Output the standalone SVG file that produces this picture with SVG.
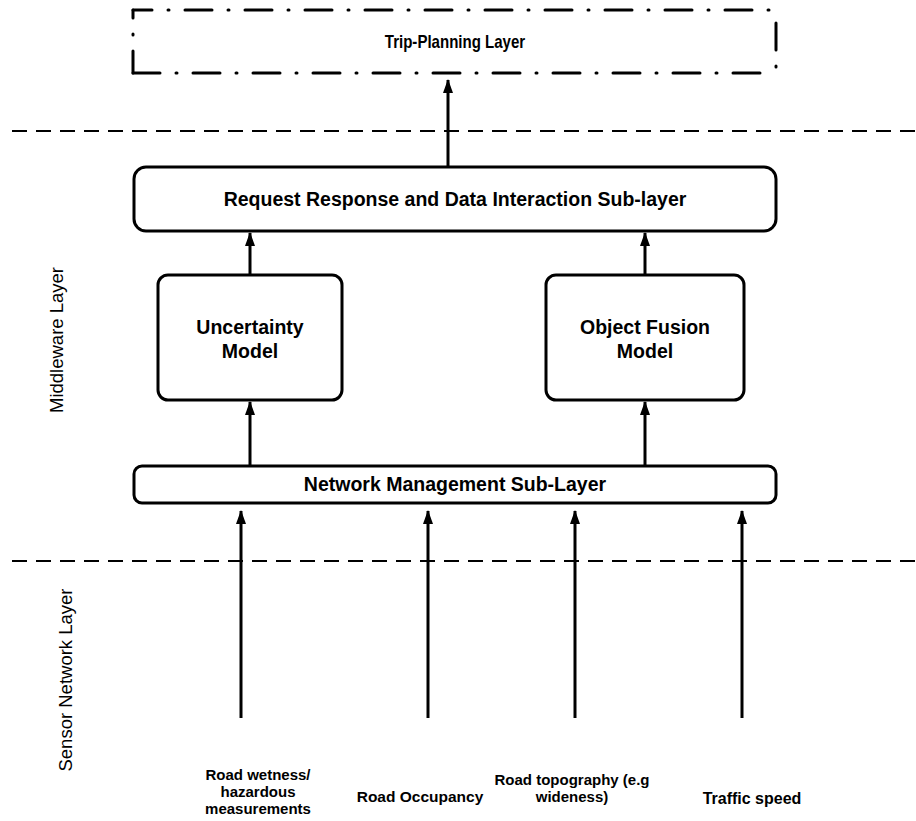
<svg xmlns="http://www.w3.org/2000/svg" width="916" height="821" viewBox="0 0 916 821">
  <defs>
    <marker id="arrowhead" viewBox="0 0 14 10" refX="13" refY="5" markerWidth="14" markerHeight="10" markerUnits="userSpaceOnUse" orient="auto">
      <path d="M0,0 L14,5 L0,10 Z" fill="#000"/>
    </marker>
    <style>
      .box { fill: #fff; stroke: #000; stroke-width: 3; }
      .lbl { font-family: "Liberation Sans", Arial, sans-serif; font-weight: bold; fill: #000; text-anchor: middle; }
      .side { font-family: "Liberation Sans", Arial, sans-serif; fill: #000; text-anchor: middle; font-size: 18.5px; }
      .sep { stroke: #000; stroke-width: 2; stroke-dasharray: 15 9; fill: none; }
      .dd { stroke: #000; stroke-width: 3; stroke-dasharray: 27 16 1 16; stroke-linecap: round; fill: none; }
      .arrow { stroke: #000; stroke-width: 3; fill: none; }
    </style>
  </defs>

  <rect width="916" height="821" fill="#fff"/>

  <!-- layer separators -->
  <g id="separators">
    <line class="sep" x1="12" y1="131" x2="916" y2="131"/>
    <line class="sep" x1="12" y1="561" x2="916" y2="561"/>
  </g>

  <!-- layer names -->
  <g id="layer-names">
    <text class="side" transform="translate(63,340) rotate(-90)">Middleware Layer</text>
    <text class="side" transform="translate(72,680) rotate(-90)">Sensor Network Layer</text>
  </g>

  <!-- trip planning layer (dash-dot outline) -->
  <g id="trip-planning">
    <line class="dd" x1="133" y1="10" x2="776" y2="10" stroke-dashoffset="8"/>
    <line class="dd" x1="776" y1="10" x2="776" y2="73" stroke-dashoffset="47"/>
    <line class="dd" x1="133" y1="73" x2="776" y2="73"/>
    <line class="dd" x1="133" y1="10" x2="133" y2="73" stroke-dashoffset="19"/>
    <text class="lbl" transform="translate(455,48) scale(0.86,1)" font-size="17.5">Trip-Planning Layer</text>
  </g>

  <g id="request-response">
    <rect class="box" x="134" y="167" width="642" height="64" rx="12"/>
    <text class="lbl" x="455" y="206" font-size="19.5">Request Response and Data Interaction Sub-layer</text>
  </g>

  <g id="uncertainty-model">
    <rect class="box" x="158" y="275" width="184" height="125" rx="10"/>
    <text class="lbl" x="250" y="334" font-size="19.5">Uncertainty</text>
    <text class="lbl" x="250" y="358" font-size="19.5">Model</text>
  </g>

  <g id="object-fusion-model">
    <rect class="box" x="546" y="275" width="198" height="125" rx="10"/>
    <text class="lbl" x="645" y="334" font-size="19.5">Object Fusion</text>
    <text class="lbl" x="645" y="358" font-size="19.5">Model</text>
  </g>

  <g id="network-management">
    <rect class="box" x="134" y="466" width="642" height="37" rx="8"/>
    <text class="lbl" x="455" y="491" font-size="19.5">Network Management Sub-Layer</text>
  </g>

  <!-- sensor inputs -->
  <g id="sensor-wetness">
    <text class="lbl" x="258" y="780" font-size="15">Road wetness/</text>
    <text class="lbl" x="258" y="797" font-size="15">hazardous</text>
    <text class="lbl" x="258" y="814" font-size="15">measurements</text>
  </g>
  <g id="sensor-occupancy">
    <text class="lbl" x="420" y="802" font-size="15.5">Road Occupancy</text>
  </g>
  <g id="sensor-topography">
    <text class="lbl" x="572" y="785" font-size="15">Road topography (e.g</text>
    <text class="lbl" x="572" y="802" font-size="15">wideness)</text>
  </g>
  <g id="sensor-speed">
    <text class="lbl" x="752" y="804" font-size="16">Traffic speed</text>
  </g>

  <!-- connectors -->
  <g id="connectors">
    <line class="arrow" x1="448" y1="167" x2="448" y2="80" marker-end="url(#arrowhead)"/>
    <line class="arrow" x1="250" y1="275" x2="250" y2="233" marker-end="url(#arrowhead)"/>
    <line class="arrow" x1="645" y1="275" x2="645" y2="233" marker-end="url(#arrowhead)"/>
    <line class="arrow" x1="250" y1="466" x2="250" y2="402" marker-end="url(#arrowhead)"/>
    <line class="arrow" x1="645" y1="466" x2="645" y2="402" marker-end="url(#arrowhead)"/>
    <line class="arrow" x1="241" y1="718" x2="241" y2="511" marker-end="url(#arrowhead)"/>
    <line class="arrow" x1="428" y1="718" x2="428" y2="511" marker-end="url(#arrowhead)"/>
    <line class="arrow" x1="575" y1="718" x2="575" y2="511" marker-end="url(#arrowhead)"/>
    <line class="arrow" x1="742" y1="718" x2="742" y2="511" marker-end="url(#arrowhead)"/>
  </g>
</svg>
